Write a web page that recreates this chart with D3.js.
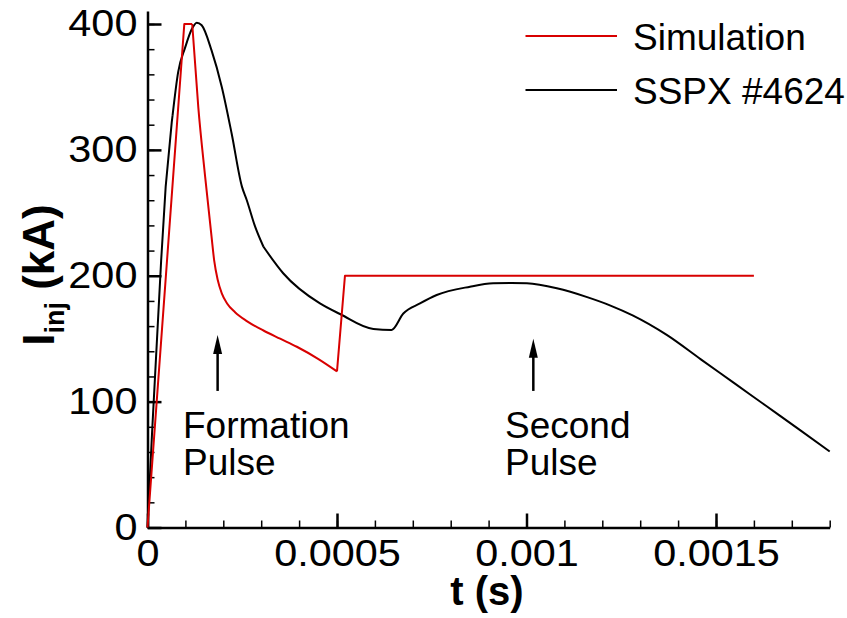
<!DOCTYPE html>
<html>
<head>
<meta charset="utf-8">
<script src="https://cdn.jsdelivr.net/npm/d3@7"></script>
<style>
  html, body { margin: 0; padding: 0; background: #fff; }
  svg { display: block; }
  text { font-family: "Liberation Sans", Arial, Helvetica, sans-serif; }
</style>
</head>
<body>
<svg id="chart" width="847" height="618"></svg>
<script>
// ---- Data ----
// Simulation: linear ramp, flat top, smooth decay, jump, flat second pulse
const simRampT = [0, 0.0000971, 0.000118];
const simRampI = [0, 400, 400];
const simDecayT = [0.000118, 0.000134, 0.000152, 0.000169, 0.000176, 0.000185, 0.000196, 0.00021, 0.000231, 0.000262, 0.000306, 0.00035, 0.000394, 0.00045, 0.0005];
const simDecayI = [400, 334, 279, 231, 212, 197, 186, 178, 171, 164, 156.5, 150, 143.6, 134, 124];
const simPulseT = [0.0005, 0.000521, 0.0016];
const simPulseI = [124, 200, 200];

// SSPX #4624 measured current
const expRiseT = [0, 0.000012, 0.000036, 0.000048, 0.000064, 0.000066];
const expRiseI = [0, 75, 212, 271, 322, 327];
const expMainT = [0.000066, 0.000081, 0.000099, 0.000117, 0.00013, 0.000143, 0.000169, 0.000196, 0.000222, 0.000249, 0.000262, 0.000284, 0.000306];
const expMainI = [327, 362, 381, 396, 401, 399, 379, 350, 313, 271, 260, 239, 223];
const expTailT = [0.000306, 0.000358, 0.000455, 0.000508, 0.000596, 0.000644, 0.000675, 0.000719, 0.000763, 0.000851, 0.000912, 0.00096, 0.001001, 0.00108, 0.00116, 0.00122, 0.00128, 0.00137, 0.00146, 0.00155, 0.00163, 0.00172, 0.0018];
const expTailI = [223, 202, 178, 169.6, 157.7, 157, 170, 178, 184.7, 191.3, 194, 194.3, 194, 190, 183, 176.5, 168.5, 153, 133.6, 114.3, 97.1, 77.8, 60.4];

const seriesNames = ["Simulation", "SSPX #4624"];
const xTicks = [0, 0.0005, 0.001, 0.0015];
const xTickLabels = ["0", "0.0005", "0.001", "0.0015"];
const yTicks = [0, 100, 200, 300, 400];
const annTimes = [0.000185, 0.001018];
const annTips = [153, 150];
const annBase = [108.5, 108.5];
const annLines = [["Formation", "Pulse"], ["Second", "Pulse"]];

// ---- Layout ----
const svg = d3.select("#chart");
const x = d3.scaleLinear().domain([0, 0.0018]).range([147.5, 829.7]);
const y = d3.scaleLinear().domain([0, 410.3]).range([527.5, 527.5 - 410.3 * (503.5 / 400)]);

const fs = 37;
const numScale = 1.12;

const xMinor = d3.range(0, 19).map(i => i * 0.0001);
const yMinor = d3.range(0, 21).map(i => i * 20);

svg.append("g")
  .attr("transform", `translate(0,${y(0)})`)
  .call(d3.axisBottom(x).tickValues(xMinor).tickSize(-7).tickSizeOuter(0).tickFormat(""))
  .call(g => g.select(".domain").remove())
  .call(g => g.selectAll("line").attr("stroke", "#000").attr("stroke-width", 1.5));

svg.append("g")
  .attr("transform", `translate(${x(0)},0)`)
  .call(d3.axisLeft(y).tickValues(yMinor).tickSize(-7).tickSizeOuter(0).tickFormat(""))
  .call(g => g.select(".domain").remove())
  .call(g => g.selectAll("line").attr("stroke", "#000").attr("stroke-width", 1.5));

svg.append("g")
  .attr("transform", `translate(0,${y(0)})`)
  .call(d3.axisBottom(x).tickValues(xTicks).tickSize(-14).tickSizeOuter(0).tickPadding(12)
        .tickFormat((d, i) => xTickLabels[i]))
  .call(g => g.select(".domain").attr("stroke", "#000").attr("stroke-width", 2.5))
  .call(g => g.selectAll("line").attr("stroke", "#000").attr("stroke-width", 2.5))
  .call(g => g.selectAll("text").attr("font-size", fs).attr("fill", "#000")
        .attr("font-family", "Liberation Sans, Arial, sans-serif")
        .attr("transform", `scale(${numScale},1)`));

svg.append("g")
  .attr("transform", `translate(${x(0)},0)`)
  .call(d3.axisLeft(y).tickValues(yTicks).tickSize(-14).tickSizeOuter(0).tickPadding(9)
        .tickFormat(d3.format("d")))
  .call(g => g.select(".domain").attr("stroke", "#000").attr("stroke-width", 2.5))
  .call(g => g.selectAll("line").attr("stroke", "#000").attr("stroke-width", 2.5))
  .call(g => g.selectAll("text").attr("font-size", fs).attr("fill", "#000")
        .attr("font-family", "Liberation Sans, Arial, sans-serif")
        .attr("transform", `scale(${numScale},1)`));

// ---- Lines ----
const zip = (a, b) => a.map((t, i) => [t, b[i]]);
const lin = d3.line().x(d => x(d[0])).y(d => y(d[1]));
const smooth = d3.line().x(d => x(d[0])).y(d => y(d[1])).curve(d3.curveMonotoneX);

function drawSeries(parts, color) {
  const g = svg.append("g");
  parts.forEach(([data, gen]) => {
    g.append("path").datum(data).attr("d", gen).attr("fill", "none")
      .attr("stroke", color).attr("stroke-width", 2).attr("stroke-linejoin", "round");
  });
}
drawSeries([[zip(expRiseT, expRiseI), lin], [zip(expMainT, expMainI), smooth], [zip(expTailT, expTailI), smooth]], "#000");
drawSeries([[zip(simRampT, simRampI), lin], [zip(simDecayT, simDecayI), smooth], [zip(simPulseT, simPulseI), lin]], "#d80000");

// ---- Annotations ----
const annX = [183, 505];
annTimes.forEach((t, k) => {
  const ax = x(t);
  const tipY = y(annTips[k]);
  svg.append("line").attr("x1", ax).attr("x2", ax)
    .attr("y1", y(annBase[k])).attr("y2", tipY + 14)
    .attr("stroke", "#000").attr("stroke-width", 2.5);
  svg.append("path")
    .attr("d", `M${ax},${tipY} L${ax - 4.5},${tipY + 19} L${ax + 4.5},${tipY + 19} Z`)
    .attr("fill", "#000");
  const txt = svg.append("text").attr("x", annX[k]).attr("y", 438).attr("font-size", fs).attr("fill", "#000");
  annLines[k].forEach((l, j) => {
    txt.append("tspan").attr("x", annX[k]).attr("dy", j === 0 ? 0 : 37).text(l);
  });
});

// ---- Legend ----
const legColors = ["#d80000", "#000"];
const legY = [36, 90];
seriesNames.forEach((n, i) => {
  svg.append("line").attr("x1", 525.5).attr("x2", 617).attr("y1", legY[i]).attr("y2", legY[i])
    .attr("stroke", legColors[i]).attr("stroke-width", 2);
  svg.append("text").attr("x", 633).attr("y", legY[i] + 13.5).attr("font-size", fs).attr("fill", "#000").text(n);
});

// ---- Axis titles ----
svg.append("text").attr("x", 487).attr("y", 605).attr("text-anchor", "middle")
  .attr("font-size", 40).attr("font-weight", "bold").text("t (s)");

const yt = svg.append("text").attr("transform", "translate(54,275) rotate(-90)")
  .attr("text-anchor", "middle").attr("font-size", 44).attr("font-weight", "bold");
yt.append("tspan").text("I");
yt.append("tspan").attr("font-size", 27).attr("dy", 10).text("inj");
yt.append("tspan").attr("dy", -10).text(" (kA)");
</script>
</body>
</html>
